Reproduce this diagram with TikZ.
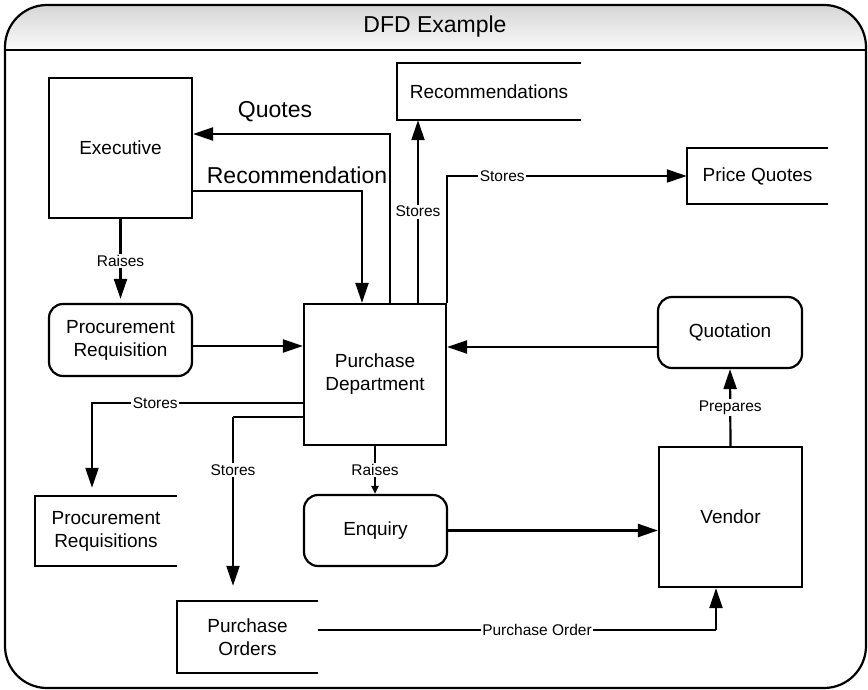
\documentclass[tikz,border=0pt]{standalone}
\usepackage{fontspec}
\setmainfont{Liberation Sans}
\usetikzlibrary{arrows.meta}
\newcommand\nodefnt{\fontsize{19}{23}\selectfont}
\newcommand\smallfnt{\fontsize{15.5}{18}\selectfont}
\newcommand\bigfnt{\fontsize{23}{27}\selectfont}
\begin{document}
\begin{tikzpicture}[x=1pt,y=-1pt,
  box/.style={draw, line width=2.2pt, inner sep=0pt, align=center, font=\nodefnt},
  proc/.style={box, rounded corners=14pt},
  storebox/.style={inner sep=0pt, align=center, font=\nodefnt},
  storeline/.style={line width=2.2pt},
  lbl/.style={font=\smallfnt, fill=white, inner sep=1.5pt},
  biglbl/.style={font=\bigfnt, inner sep=0pt},
  ln/.style={line width=2.2pt},
  arr/.style={ln, -{Triangle[length=20pt,width=13pt]}},
  smallarr/.style={ln, -{Triangle[length=8pt,width=7pt]}}
]
\useasboundingbox (0,0) rectangle (868,690);
% frame and title band
\begin{scope}
  \clip[rounded corners=42pt] (5,5) rectangle (866,688);
  \shade[top color=gray!32, bottom color=gray!4] (5,5) rectangle (866,50);
\end{scope}
\draw[ln, rounded corners=42pt] (5,5) rectangle (866,688);
\draw[ln] (5,50) -- (866,50);
\node[font=\bigfnt] (title) at (435,27) {DFD Example};

% processes / entities
\node[box, minimum width=143pt, minimum height=140pt] (exec) at (120.5,148) {Executive};
\node[proc, minimum width=143pt, minimum height=72pt] (preq) at (120.5,340) {Procurement\\Requisition};
\node[box, minimum width=142pt, minimum height=141pt] (pd) at (375,374.5) {Purchase\\Department};
\node[proc, minimum width=144pt, minimum height=71pt] (quot) at (730,332.5) {Quotation};
\node[box, minimum width=143pt, minimum height=140pt] (vend) at (730.5,517) {Vendor};
\node[proc, minimum width=143pt, minimum height=71pt] (enq) at (375.5,530.5) {Enquiry};

% data stores (open right side)
\node[storebox, minimum width=184pt, minimum height=57pt] (recs) at (489,91.5) {Recommendations};
\node[storebox, minimum width=141pt, minimum height=56pt] (pq) at (757.5,176) {Price Quotes};
\node[storebox, minimum width=142pt, minimum height=70pt] (preqs) at (106,531) {Procurement\\Requisitions};
\node[storebox, minimum width=141pt, minimum height=72pt] (po) at (247.5,637) {Purchase\\Orders};
\foreach \s in {recs,pq,preqs,po}{
  \draw[storeline] (\s.north east) -- (\s.north west) -- (\s.south west) -- (\s.south east);
}

% bend points
\coordinate (qc) at (390,134);
\coordinate (rc) at (362,191);
\coordinate (sr) at (418,212);
\coordinate (s1) at (92,403);
\coordinate (s2) at (233,417);
\coordinate (pc) at (716,630);

% connectors
\draw[arr, shorten >=4pt] (exec.south) -- node[lbl]{Raises} (exec.south |- preq.north);
\draw[arr] ([yshift=-6pt]preq.east) -- ([yshift=-6pt]preq.east -| pd.west);
\draw[arr] (exec.east |- rc) -- (rc) -- (rc |- pd.north);
\node[biglbl] (recl) at (297,175) {Recommendation};
\draw[arr] (qc |- pd.north) -- (qc) -- (exec.east |- qc);
\node[biglbl] (quol) at (275,112) {Quotes};
\draw[arr] (sr |- pd.north) -- node[lbl]{Stores} (sr |- recs.south);
\draw[arr] (pd.north east) |- node[lbl, pos=0.615]{Stores} (pq.west);
\draw[arr] ([yshift=-14.5pt]quot.west) -- ([yshift=-14.5pt]quot.west -| pd.east);
\draw[arr] (vend.north) -- node[lbl]{Prepares} (quot.south);
\draw[smallarr] (pd.south) -- node[lbl]{Raises} (pd.south |- enq.north);
\draw[arr] (enq.east) -- (enq.east -| vend.west);
\draw[arr, shorten >=8pt] (pd.west |- s1) -- node[lbl, pos=0.70]{Stores} (s1) -- (s1 |- preqs.north);
\draw[ln] (pd.west |- s2) -- (s2);
\draw[arr, shorten >=15pt] (s2) -- node[lbl, pos=0.29]{Stores} (s2 |- po.north);
\draw[ln] (po.east |- pc) -- node[lbl, pos=0.55]{Purchase Order} (pc);
\draw[arr] (pc) -- (pc |- vend.south);
\end{tikzpicture}
\end{document}
